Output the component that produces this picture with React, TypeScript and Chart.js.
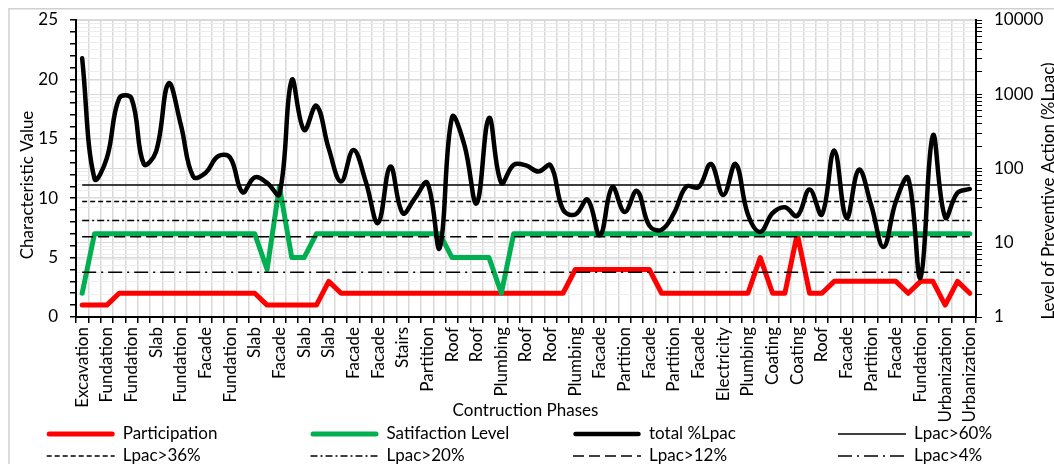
import React, { useEffect, useRef } from "react";
import { Chart, registerables } from "chart.js";

Chart.register(...registerables);

// ---------------- DATA ----------------
const phases = [
  "Excavation", "Excavation", "Fundation", "Fundation", "Fundation", "Fundation", "Slab", "Slab",
  "Fundation", "Fundation", "Facade", "Facade", "Fundation", "Fundation", "Slab", "Slab",
  "Facade", "Facade", "Slab", "Slab", "Slab", "Slab", "Facade", "Facade",
  "Facade", "Facade", "Stairs", "Stairs", "Partition", "Partition", "Roof", "Roof",
  "Roof", "Roof", "Plumbing", "Plumbing", "Roof", "Roof", "Roof", "Roof",
  "Plumbing", "Plumbing", "Facade", "Facade", "Partition", "Partition", "Facade", "Facade",
  "Partition", "Partition", "Facade", "Facade", "Electricity", "Electricity", "Plumbing", "Plumbing",
  "Coating", "Coating", "Coating", "Coating", "Roof", "Roof", "Facade", "Facade",
  "Partition", "Partition", "Facade", "Facade", "Fundation", "Fundation", "Urbanization", "Urbanization",
  "Urbanization",
];

const participation = [
  1, 1, 1, 2, 2, 2, 2, 2, 2, 2, 2, 2, 2, 2, 2,
  1, 1, 1, 1, 1, 3,
  2, 2, 2, 2, 2, 2, 2, 2, 2, 2, 2, 2, 2, 2, 2, 2, 2, 2, 2,
  4, 4, 4, 4, 4, 4, 4,
  2, 2, 2, 2, 2, 2, 2, 2,
  5, 2, 2, 7, 2, 2,
  3, 3, 3, 3, 3, 3,
  2, 3, 3, 1, 3, 2,
];

const satisfaction = [
  2, 7, 7, 7, 7, 7, 7, 7, 7, 7, 7, 7, 7, 7, 7,
  4, 11, 5, 5,
  7, 7, 7, 7, 7, 7, 7, 7, 7, 7, 7,
  5, 5, 5, 5, 2,
  7, 7, 7, 7, 7, 7, 7, 7, 7, 7, 7, 7, 7, 7, 7, 7, 7, 7, 7,
  7, 7, 7, 7, 7, 7, 7, 7, 7, 7, 7, 7, 7, 7, 7, 7, 7, 7, 7,
];

const totalLpac = [
  3050, 73, 138, 880, 880, 115, 170, 1400, 390, 78,
  87, 145, 140, 48, 76, 64, 45, 1550, 330, 700,
  185, 67, 178, 67, 18.5, 106, 25, 40, 64, 8.5,
  490, 208, 34, 480, 64, 112, 110, 91, 110, 28,
  24, 38, 12.6, 56, 26, 50, 17, 15, 25, 57,
  56, 115, 44, 115, 24, 14, 25, 30, 23, 52,
  24, 175, 21.5, 96, 32, 8.8, 36, 74, 3.4, 278,
  22, 47, 53,
];

const thresholdLabels = ["Lpac>60%", "Lpac>36%", "Lpac>20%", "Lpac>12%", "Lpac>4%"];
const thresholdValues = [60, 36, 20, 12, 4];

const leftTickStep = 1;
const leftMax = 25;
const rightMin = 1;
const rightMax = 10000;

// ---------------- STYLE ----------------
const FONT = "Lato, 'Open Sans', sans-serif";
const thresholdDashes = [[], [5, 3], [7, 3, 2, 3], [11, 5], [14, 5, 2, 5]];

function logTickValues(min: number, max: number) {
  const out: number[] = [];
  for (let e = Math.log10(min); e < Math.log10(max); e++) {
    for (let k = 1; k < 10; k++) out.push(k * Math.pow(10, e));
  }
  out.push(max);
  return out;
}
const isPow10 = (v: number) => Math.abs(Math.log10(v) - Math.round(Math.log10(v))) < 1e-9;

const extrasPlugin = {
  id: "extras",
  afterDraw(chart: any) {
    const { ctx } = chart;
    ctx.save();
    // outer frame (top & left)
    ctx.strokeStyle = "#d0d0d0";
    ctx.lineWidth = 1.5;
    ctx.beginPath();
    ctx.moveTo(1, chart.height);
    ctx.lineTo(1, 0.75);
    ctx.lineTo(chart.width, 0.75);
    ctx.stroke();

    ctx.fillStyle = "#000";
    ctx.font = `17px ${FONT}`;
    ctx.textAlign = "center";
    ctx.textBaseline = "middle";
    // axis titles
    ctx.save();
    ctx.translate(19.5, 177);
    ctx.rotate(-Math.PI / 2);
    ctx.fillText("Characteristic Value", 0, 0);
    ctx.restore();

    ctx.save();
    ctx.translate(1041, 183);
    ctx.rotate(-Math.PI / 2);
    ctx.fillText("Level of Preventive Action (%Lpac)", 0, 0, 258);
    ctx.restore();

    ctx.fillText("Contruction Phases", 517.5, 403);

    // legend
    const colX = [38.7, 302.5, 565, 830];
    const rowY = [426, 448];
    const sampleLen = 68;
    ctx.textAlign = "left";
    chart.data.datasets.forEach((ds: any, i: number) => {
      const x = colX[i % 4];
      const y = rowY[Math.floor(i / 4)];
      const thick = ds.borderWidth > 3;
      ctx.save();
      ctx.strokeStyle = ds.borderColor;
      ctx.lineWidth = ds.borderWidth;
      ctx.lineCap = thick ? "round" : "butt";
      ctx.setLineDash(ds.borderDash || []);
      ctx.beginPath();
      ctx.moveTo(x + (thick ? 2.5 : 0), y);
      ctx.lineTo(x + sampleLen - (thick ? 2.5 : 0), y);
      ctx.stroke();
      ctx.restore();
      ctx.fillText(ds.label, x + sampleLen + 8, y);
    });
    ctx.restore();
  },
};

export default function App() {
  const ref = useRef<HTMLCanvasElement | null>(null);

  useEffect(() => {
    if (!ref.current) return;
    const datasets: any[] = [
      {
        label: "Participation",
        data: participation,
        yAxisID: "y",
        borderColor: "#FF0000",
        backgroundColor: "#FF0000",
        borderWidth: 5,
        tension: 0,
        borderJoinStyle: "round",
        borderCapStyle: "round",
        order: 8,
      },
      {
        label: "Satifaction Level",
        data: satisfaction,
        yAxisID: "y",
        borderColor: "#00B050",
        backgroundColor: "#00B050",
        borderWidth: 5,
        tension: 0,
        borderJoinStyle: "round",
        borderCapStyle: "round",
        order: 7,
      },
      {
        label: "total %Lpac",
        data: totalLpac,
        yAxisID: "y2",
        borderColor: "#000000",
        backgroundColor: "#000000",
        borderWidth: 4.5,
        tension: 0.4,
        borderJoinStyle: "round",
        borderCapStyle: "round",
        order: 6,
      },
      ...thresholdLabels.map((lab, i) => ({
        label: lab,
        data: phases.map(() => thresholdValues[i]),
        yAxisID: "y2",
        borderColor: "#000000",
        backgroundColor: "#000000",
        borderWidth: 1.5,
        borderDash: thresholdDashes[i],
        tension: 0,
        order: 5 - i,
      })),
    ];

    const chart = new Chart(ref.current, {
      type: "line",
      data: { labels: phases, datasets },
      plugins: [extrasPlugin],
      options: {
        animation: false,
        responsive: false,
        devicePixelRatio: 1,
        layout: { padding: { left: 0, right: 0, top: 12, bottom: 35 } },
        elements: { point: { radius: 0, hoverRadius: 0 } },
        plugins: { legend: { display: false }, tooltip: { enabled: false }, title: { display: false } },
        scales: {
          x: {
            type: "category",
            offset: true,
            grid: {
              offset: true,
              color: "#d9d9d9",
              lineWidth: 1.5,
              tickColor: "#000",
              tickLength: 6,
            },
            border: { color: "#000", width: 2 },
            ticks: {
              autoSkip: false,
              maxRotation: 90,
              minRotation: 90,
              padding: 4,
              color: "#000",
              font: { family: FONT, size: 17 },
              callback: (_v: any, i: number) => (i % 2 === 0 ? phases[i] : ""),
            },
            afterFit: (s: any) => {
              s.height = 112;
              s.paddingLeft = 0;
              s.paddingRight = 0;
            },
          },
          y: {
            type: "linear",
            position: "left",
            min: 0,
            max: leftMax,
            grid: {
              color: (c: any) => (c.tick && c.tick.value % 5 === 0 ? "#d9d9d9" : "rgba(0,0,0,0)"),
              lineWidth: 1.5,
              tickColor: "#000",
              tickLength: 6,
            },
            border: { color: "#000", width: 2 },
            ticks: {
              stepSize: leftTickStep,
              autoSkip: false,
              padding: 12,
              color: "#000",
              font: { family: FONT, size: 17 },
              callback: (v: any) => (Number(v) % 5 === 0 ? String(v) : ""),
            },
            afterFit: (s: any) => {
              s.width = 68;
              s.paddingTop = 0;
              s.paddingBottom = 0;
            },
          },
          y2: {
            type: "logarithmic",
            position: "right",
            min: rightMin,
            max: rightMax,
            afterBuildTicks: (s: any) => {
              s.ticks = logTickValues(rightMin, rightMax).map((v) => ({ value: v, major: isPow10(v) }));
            },
            grid: {
              color: (c: any) => (c.tick && isPow10(c.tick.value) ? "#d9d9d9" : "#ededed"),
              lineWidth: 1,
              tickColor: "#000",
              tickLength: 6,
            },
            border: { color: "#000", width: 2 },
            ticks: {
              autoSkip: false,
              padding: 12,
              color: "#000",
              font: { family: FONT, size: 17 },
              callback: (v: any) => (isPow10(Number(v)) ? String(v) : ""),
            },
            afterFit: (s: any) => {
              s.width = 78;
              s.paddingTop = 0;
              s.paddingBottom = 0;
            },
          },
        },
      } as any,
    });
    return () => chart.destroy();
  }, []);

  return (
    <div style={{ position: "fixed", left: 8, top: 8, width: 1046, height: 456, background: "#fff" }}>
      <canvas ref={ref} width={1046} height={456} style={{ display: "block", width: 1046, height: 456 }} />
    </div>
  );
}
